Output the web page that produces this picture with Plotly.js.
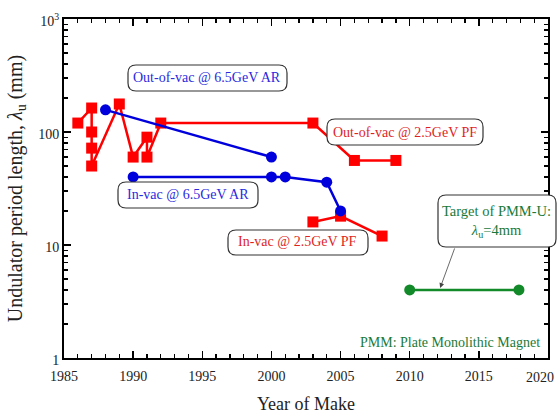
<!DOCTYPE html>
<html>
<head>
<meta charset="utf-8">
<script src="https://cdn.plot.ly/plotly-3.0.1.min.js"></script>
<style>html,body{margin:0;padding:0;background:#fff;}#chart{width:557px;height:414px;}</style>
</head>
<body>
<div id="chart"></div>
<script>
// Out-of-vacuum undulators @ 2.5GeV PF (red)
const pfOutYears = [1986, 1987, 1987, 1987, 1987, 1989, 1990, 1991, 1991, 1992, 2003, 2006, 2009];
const pfOutLambda = [120, 163, 100, 72, 50, 177, 60, 90, 60, 120, 120, 56, 56];
// In-vacuum undulators @ 2.5GeV PF (red)
const pfInYears = [2003, 2005, 2008];
const pfInLambda = [16, 18, 12];
// Out-of-vacuum undulators @ 6.5GeV AR (blue)
const arOutYears = [1988, 2000];
const arOutLambda = [157, 60];
// In-vacuum undulators @ 6.5GeV AR (blue)
const arInYears = [1990, 2000, 2001, 2004, 2005];
const arInLambda = [40, 40, 40, 36, 20];
// Target of PMM-U (green)
const pmmYears = [2010, 2017.9];
const pmmLambda = [4, 4];

const xTickVals = [1985, 1990, 1995, 2000, 2005, 2010, 2015, 2020];
const xTickLabels = ['1985', '1990', '1995', '2000', '2005', '2010', '2015', '2020'];
const yTickVals = [1, 10, 100, 1000];
const yTickText = ['1', '10', '100', '10<sup>3</sup>'];

const RED = '#ff0000', BLUE = '#0000dd', GREEN = '#138a2a';
const FONT = "'Liberation Serif', 'Times New Roman', Times, serif";

function redTrace(x, y) {
  return {x, y, type: 'scatter', mode: 'lines+markers',
    line: {color: RED, width: 2.5},
    marker: {symbol: 'square', size: 11, color: RED}, cliponaxis: false};
}
function circTrace(x, y, c) {
  return {x, y, type: 'scatter', mode: 'lines+markers',
    line: {color: c, width: 2.5},
    marker: {symbol: 'circle', size: 11, color: c}, cliponaxis: false};
}

const traces = [
  redTrace(pfOutYears, pfOutLambda),
  redTrace(pfInYears, pfInLambda),
  circTrace(arOutYears, arOutLambda, BLUE),
  circTrace(arInYears, arInLambda, BLUE),
  circTrace(pmmYears, pmmLambda, GREEN)
];

// plot geometry in pixels (for box placement)
const L = 64, T = 19, W = 484, H = 339;
function px2paperX(px) { return (px - L) / W; }
function px2paperY(py) { return (T + H - py) / H; }
function roundBox(x0p, y0p, x1p, y1p) {
  const r = 8;
  const x0 = px2paperX(x0p), x1 = px2paperX(x1p);
  const yt = px2paperY(y0p), yb = px2paperY(y1p);
  const rx = r / W, ry = r / H;
  const path = `M ${x0 + rx},${yt} L ${x1 - rx},${yt} Q ${x1},${yt} ${x1},${yt - ry} ` +
    `L ${x1},${yb + ry} Q ${x1},${yb} ${x1 - rx},${yb} L ${x0 + rx},${yb} ` +
    `Q ${x0},${yb} ${x0},${yb + ry} L ${x0},${yt - ry} Q ${x0},${yt} ${x0 + rx},${yt} Z`;
  return {type: 'path', xref: 'paper', yref: 'paper', path: path,
    line: {color: '#333', width: 1.2}, fillcolor: '#ffffff', layer: 'above'};
}

const shapes = [
  roundBox(128, 65, 287, 91),
  roundBox(118, 182, 258, 208),
  roundBox(327, 119, 483, 145),
  roundBox(228, 230, 368, 255),
  roundBox(438, 195, 556, 247)
];

function ann(text, x, y, color) {
  return {text, x, y, xref: 'x', yref: 'y', showarrow: false,
    font: {family: FONT, size: 14, color: color}};
}

const lastIdx = xTickLabels.length - 1;

const annotations = [
  ann('Out-of-vac @ 6.5GeV AR', 1995.35, 2.478, '#2a2ae0'),
  ann('In-vac @ 6.5GeV AR', 1993.95, 1.445, '#2a2ae0'),
  ann('Out-of-vac @ 2.5GeV PF', 2009.65, 2.0, '#e01f1f'),
  ann('In-vac @ 2.5GeV PF', 2001.9, 1.03, '#e01f1f'),
  {text: 'Target of PMM-U:<br><i>λ</i><sub>u</sub>=4mm', x: 2016.3, y: 1.21, xref: 'x', yref: 'y',
    showarrow: false, font: {family: FONT, size: 14.5, color: '#1a7a3a'}},
  {text: '', x: 2012.2, y: 0.62, xref: 'x', yref: 'y', showarrow: true,
    ax: 15, ay: -41, arrowhead: 2, arrowsize: 1.2, arrowwidth: 0.8, arrowcolor: '#444'},
  {text: 'PMM: Plate Monolithic Magnet', x: px2paperX(542), y: px2paperY(342),
    xref: 'paper', yref: 'paper', xanchor: 'right', yanchor: 'middle', showarrow: false,
    font: {family: FONT, size: 14, color: '#1a7a3a'}},
  // last x tick label, kept inside the picture as in the reference
  {text: xTickLabels[lastIdx], x: xTickVals[lastIdx], y: 0, xref: 'x', yref: 'paper',
    xanchor: 'right', yanchor: 'top', xshift: 8, yshift: -10, showarrow: false,
    font: {family: FONT, size: 14, color: '#222'}}
];

const xTickText = xTickLabels.map((t, i) => i === lastIdx ? '' : t);

const layout = {
  width: 557, height: 414,
  margin: {l: L, r: 557 - L - W, t: T, b: 414 - T - H},
  paper_bgcolor: '#fff', plot_bgcolor: '#fff',
  showlegend: false,
  font: {family: FONT, size: 14, color: '#000'},
  xaxis: {
    range: [1985, 2020], tickvals: xTickVals, ticktext: xTickText,
    ticklabelstandoff: 4,
    showgrid: false, zeroline: false,
    showline: true, linecolor: '#000', linewidth: 2, mirror: 'allticks',
    ticks: 'inside', ticklen: 7, tickwidth: 1.5, tickcolor: '#000',
    minor: {ticks: 'inside', dtick: 1, ticklen: 4, tickwidth: 1.3, tickcolor: '#000', showgrid: false},
    tickfont: {family: FONT, size: 14, color: '#222'},
    title: {text: 'Year of Make', font: {family: FONT, size: 18, color: '#222'}, standoff: 24}
  },
  yaxis: {
    type: 'log', range: [0, 3],
    tickvals: yTickVals, ticktext: yTickText, ticklabelshift: 2,
    showgrid: false, zeroline: false,
    showline: true, linecolor: '#000', linewidth: 2, mirror: 'allticks',
    ticks: 'inside', ticklen: 7, tickwidth: 1.5, tickcolor: '#000',
    minor: {ticks: 'inside', dtick: 'D1', ticklen: 4, tickwidth: 1.3, tickcolor: '#000', showgrid: false},
    tickfont: {family: FONT, size: 14, color: '#222'},
    title: {text: 'Undulator period length, <i>λ</i><sub>u</sub> (mm)', font: {family: FONT, size: 20, color: '#222'}, standoff: 10}
  },
  shapes: shapes,
  annotations: annotations
};

Plotly.newPlot('chart', traces, layout, {displayModeBar: false, staticPlot: true});
</script>
</body>
</html>
